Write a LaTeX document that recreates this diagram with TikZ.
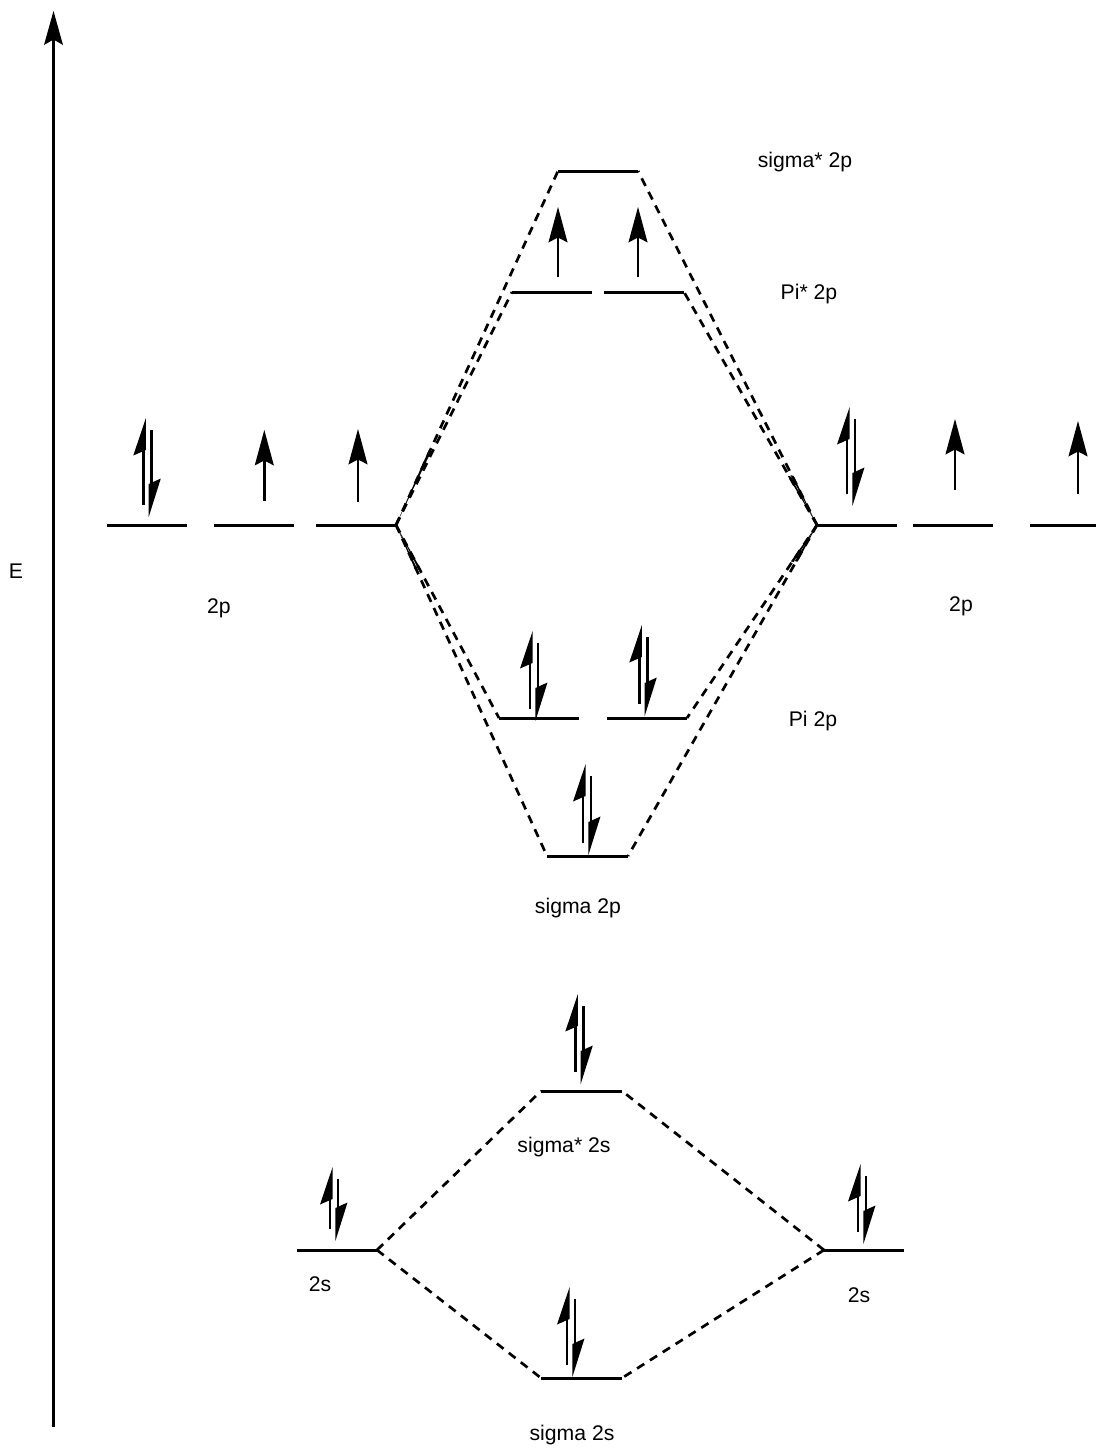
\documentclass[tikz,border=0pt]{standalone}
\usepackage{fontspec}
\setmainfont{Liberation Sans}
\usetikzlibrary{calc}
\tikzset{
  levelline/.style={line width=3pt,line cap=butt},
  mixline/.style={line width=2.7pt,dash pattern=on 8.5pt off 6.7pt,line cap=butt},
  shaft/.style={line width=2.4pt,line cap=butt},
  head/.style={fill=black,draw=none},
  lab/.style={inner sep=0pt,anchor=base,font=\fontsize{21.2pt}{24pt}\selectfont}
}
% level: name, x-left, x-right, y
\newcommand\mylevel[4]{%
  \coordinate (#1-l) at (#2,#4);
  \coordinate (#1-r) at (#3,#4);
  \draw[levelline] (#1-l) -- (#1-r);}
% full up arrow: x, tip y, bottom y
\newcommand\myup[3]{%
  \draw[shaft] (#1,#3) -- (#1,#2+28);
  \fill[head] (#1,#2) -- (#1+9.6,#2+35.5) -- (#1,#2+30.5) -- (#1-9.6,#2+35.5) -- cycle;}
% pair of half arrows: x of up shaft, tip y, shaft length
\newcommand\mypair[3]{%
  \draw[shaft] (#1,#2+#3) -- (#1,#2+30);
  \fill[head] (#1+2.6,#2) -- (#1-10,#2+37.5) -- (#1+2.6,#2+32) -- cycle;
  \draw[shaft] (#1+8,#2+12) -- (#1+8,#2+#3-20);
  \fill[head] (#1+5.4,#2+#3+12) -- (#1+17.5,#2+#3-26.5) -- (#1+5.4,#2+#3-21) -- cycle;}
% tapered solid start of a mixing line: vertex, target, fraction
\newcommand\mytaper[3]{%
  \fill[head] (#1) -- ($(#1)!#3!(#2)+(1.4,0.3)$) -- ($(#1)!#3!(#2)+(-1.4,-0.3)$) -- cycle;}
\begin{document}
\begin{tikzpicture}[x=1pt,y=-1pt]
\useasboundingbox (0,0) rectangle (1096,1448);
% energy axis
\coordinate (axisbot) at (53.5,1427);
\coordinate (axistop) at (53.5,36);
\draw[shaft] (axisbot) -- (axistop);
\fill[head] (53.5,11) -- (63,45) -- (53.5,39.5) -- (44,45) -- cycle;
% levels
\mylevel{La}{107}{187}{525}
\mylevel{Lb}{214}{294}{525}
\mylevel{Lc}{316}{396}{525}
\mylevel{Ra}{817}{897}{525}
\mylevel{Rb}{913}{993}{525}
\mylevel{Rc}{1030}{1096}{525}
\mylevel{sst}{558}{638}{171}
\mylevel{pisa}{512}{592}{292}
\mylevel{pisb}{604}{684}{292}
\mylevel{pia}{499}{579}{718}
\mylevel{pib}{607}{687}{718}
\mylevel{sp}{547}{628}{856}
\mylevel{sss}{541}{622}{1091}
\mylevel{ss}{541}{622}{1378}
\mylevel{sL}{297}{377}{1250}
\mylevel{sR}{824}{904}{1250}
% mixing lines
\foreach \a/\b in {Lc-r/sst-l,Lc-r/pisa-l,Lc-r/pia-l,Lc-r/sp-l,
                   Ra-l/sst-r,Ra-l/pisb-r,Ra-l/pib-r,Ra-l/sp-r,
                   sL-r/sss-l,sL-r/ss-l,sR-l/sss-r,sR-l/ss-r}
  \draw[mixline] (\a) -- (\b);
% merged starts
\mytaper{Lc-r}{sst-l}{0.21}
\mytaper{Lc-r}{pia-l}{0.23}
\mytaper{Lc-r}{sp-l}{0.135}
\mytaper{Ra-l}{sst-r}{0.14}
\mytaper{Ra-l}{pisb-r}{0.21}
\mytaper{Ra-l}{pib-r}{0.19}
\mytaper{Ra-l}{sp-r}{0.11}
% electrons
\mypair{143.3}{418}{87}
\myup{264.3}{430}{501}
\myup{358}{429}{502}
\mypair{847}{407}{87}
\myup{955}{419}{490}
\myup{1078}{421}{494}
\myup{558}{207}{277}
\myup{638}{207}{277}
\mypair{530}{631}{78}
\mypair{639.3}{625}{79}
\mypair{583}{764}{79}
\mypair{575.3}{994}{78}
\mypair{567}{1287}{78}
\mypair{330}{1167}{62}
\mypair{858}{1164}{68}
% labels
\node[lab] (lE) at (16,578) {E};
\node[lab] (l2pL) at (219,613) {2p};
\node[lab] (l2pR) at (961,611) {2p};
\node[lab] (lsst) at (805,167) {sigma* 2p};
\node[lab] (lpis) at (809,299) {Pi* 2p};
\node[lab] (lpi) at (813,726) {Pi 2p};
\node[lab] (lsp) at (578,913) {sigma 2p};
\node[lab] (lsss) at (564,1152) {sigma* 2s};
\node[lab] (l2sL) at (320,1291) {2s};
\node[lab] (l2sR) at (859,1302) {2s};
\node[lab] (lss) at (572,1440) {sigma 2s};
\end{tikzpicture}
\end{document}
